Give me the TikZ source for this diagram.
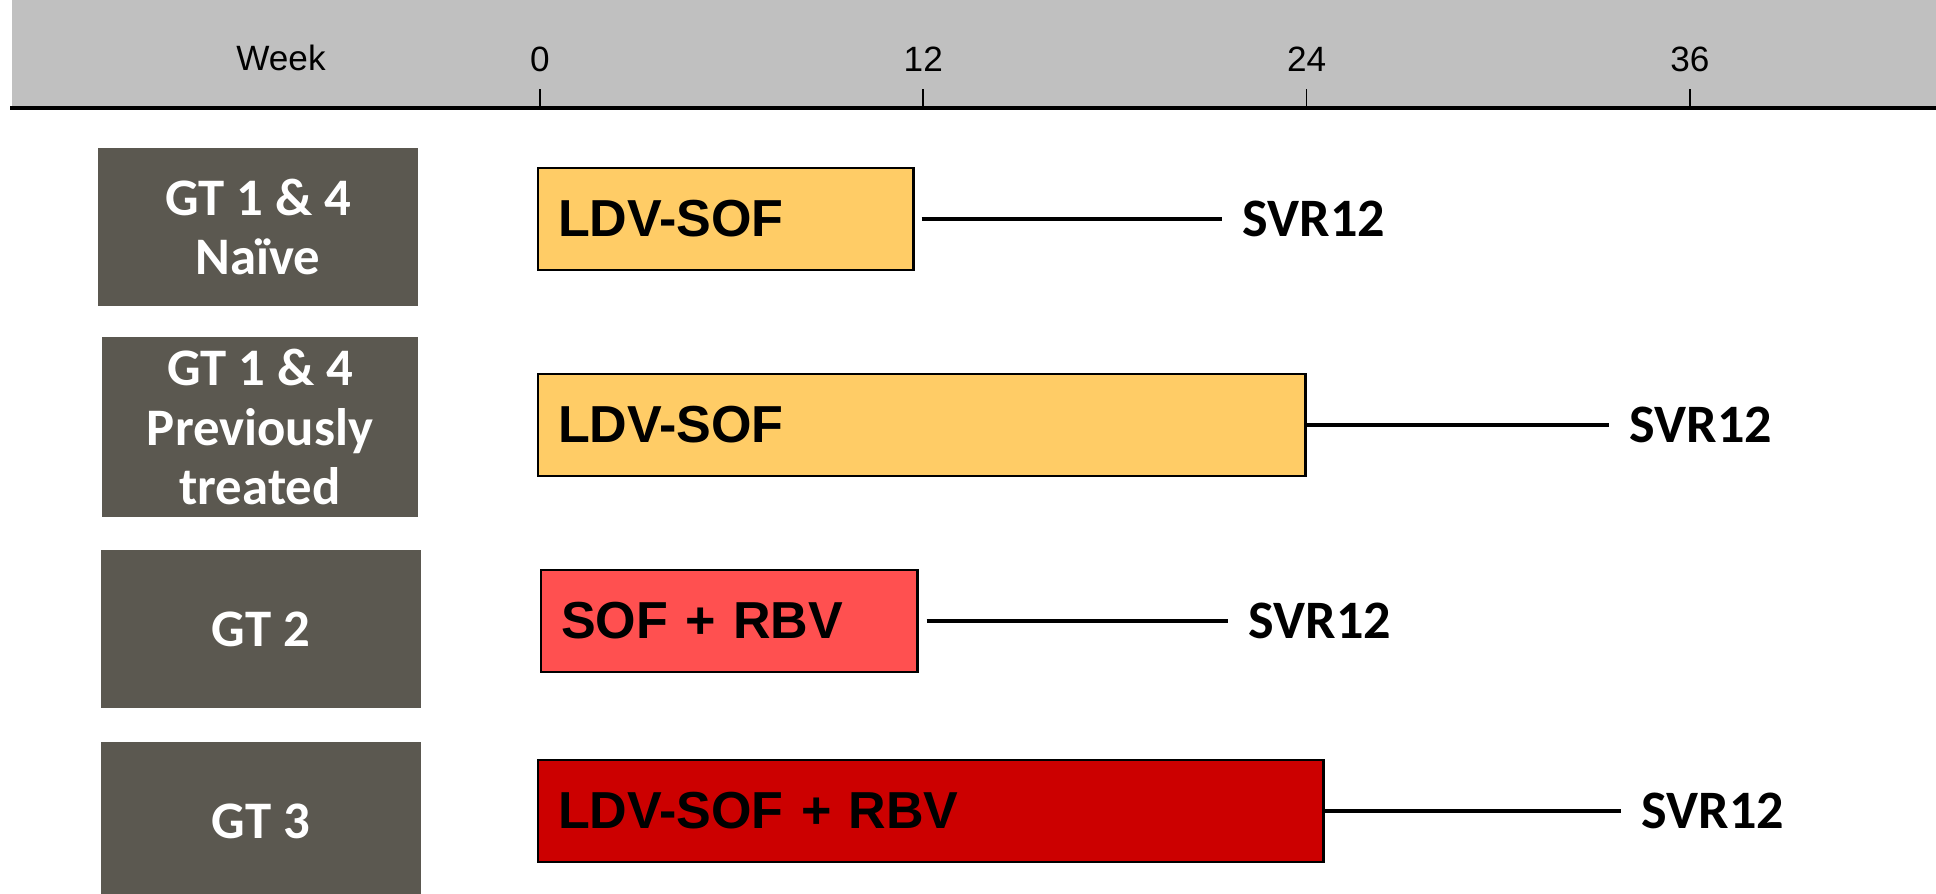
\documentclass[tikz,border=0pt]{standalone}
\usepackage{fontspec}
\setmainfont{Liberation Sans}
\newfontfamily\calibri{Carlito}
\usepackage{tikz}

\begin{document}
\begin{tikzpicture}
			[x=0.01cm,y=-0.01cm,line cap=rect,
			%Styles
			week text/.style={font=\fontsize{10}{12}\selectfont,inner sep=0pt},
			group/.style={fill=groupgray,text=white,inner sep=0pt,align=center,
				font=\calibri\bfseries\fontsize{15}{17}\selectfont,
				minimum width=3.19cm,minimum height=1.57cm},
			bar/.style={draw=black,line width=0.65pt,anchor=west,align=left,
				inner xsep=0.2cm,minimum height=1.02cm,
				font=\bfseries\fontsize{14.8}{17}\selectfont},
			result/.style={anchor=west,inner xsep=0.2cm,inner ysep=0pt,
				font=\calibri\bfseries\fontsize{15.4}{18}\selectfont},
			link/.style={line width=1.3pt,line cap=butt}
			]
			
			%Colors
			\definecolor{headgray}{HTML}{C0C0C0}
			\definecolor{groupgray}{HTML}{5B5850}
			\definecolor{ldvsof}{HTML}{FFCC66}
			\definecolor{sofrbv}{HTML}{FF5050}
			\definecolor{triple}{HTML}{CC0000}
			
			\useasboundingbox (0,0) rectangle (1936,894);
			
			%Time axis
			\fill[headgray] (12,0) rectangle (1936,108);
			\draw[line width=1.2pt] (12,108) -- (1936,108);
			\node[week text] (week) at (281,58) {Week};
			\foreach \w in {0,12,24,36}
			{
				\node[week text] (t\w) at (540+31.94*\w,59) {\w};
				\draw[line width=0.5pt] (540+31.94*\w,90) -- (540+31.94*\w,108);
			}
			
			%The graphic
			\node[group] (g1) at (258,227) {GT 1 \& 4\\Naïve};
			\node[group,minimum width=3.16cm,minimum height=1.80cm] (g2) at (260,427) {GT 1 \& 4\\Previously\\treated};
			\node[group] (g3) at (261,629) {GT 2};
			\node[group] (g4) at (261,821) {GT 3};
			
			\node[bar,fill=ldvsof,text width=3.35cm] (b1) at (537,219) {LDV-SOF};
			\node[bar,fill=ldvsof,text width=7.27cm] (b2) at (537,425) {LDV-SOF};
			\node[bar,fill=sofrbv,text width=3.36cm] (b3) at (540,621) {SOF + RBV};
			\node[bar,fill=triple,text width=7.45cm] (b4) at (537,811) {LDV-SOF + RBV};
			
			\node[result] (s1) at (1222,219) {SVR12};
			\node[result] (s2) at (1609,425) {SVR12};
			\node[result] (s3) at (1228,621) {SVR12};
			\node[result] (s4) at (1621,811) {SVR12};
			
			\path[link]
				(b1) edge[shorten <=0.07cm] (s1)
				(b2) edge (s2)
				(b3) edge[shorten <=0.08cm] (s3)
				(b4) edge (s4);
		\end{tikzpicture}
\end{document}
